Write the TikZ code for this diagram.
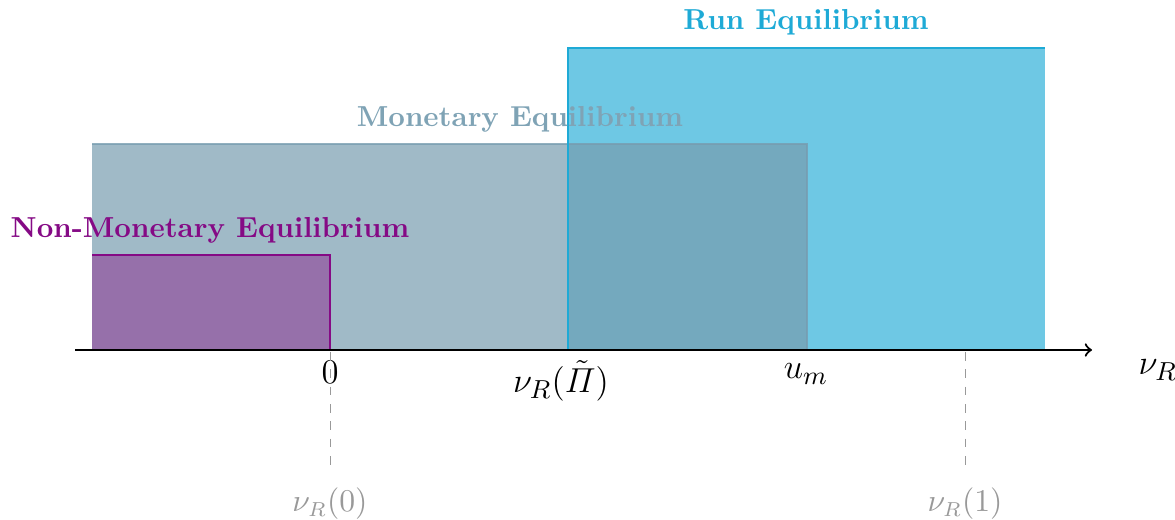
\documentclass[tikz,border=0pt]{standalone}
\usepackage{amsmath}
\definecolor{runc}{HTML}{1EAAD6}
\definecolor{runfill}{HTML}{6EC8E4}
\definecolor{monc}{HTML}{779CAF}
\definecolor{montext}{HTML}{7FA3B5}
\definecolor{nonc}{HTML}{850A85}
\definecolor{nonfill}{HTML}{9670AA}
\definecolor{lblgray}{HTML}{999999}
\begin{document}
\begin{tikzpicture}[x=0.346pt,y=-0.346pt,
  title/.style={font=\fontsize{10}{12}\selectfont\bfseries, inner sep=0pt},
  axlabel/.style={font=\fontsize{12.5}{15}\selectfont, inner sep=0pt},
  graylabel/.style={font=\fontsize{10.6}{13}\selectfont, text=lblgray, inner sep=0pt},
  border/.style={line width=0.6pt},
  guide/.style={dashed, draw=lblgray, line width=0.35pt}]
\useasboundingbox (0,0) rectangle (1175,520);
% corners
\coordinate (r0) at (568,350); \coordinate (r1) at (568,48); \coordinate (r2) at (1045,48); \coordinate (r3) at (1045,350);
\coordinate (m0) at (92,350); \coordinate (m1) at (92,144); \coordinate (m2) at (807,144); \coordinate (m3) at (807,350);
\coordinate (n0) at (92,350); \coordinate (n1) at (92,255); \coordinate (n2) at (330,255); \coordinate (n3) at (330,350);
% fills
\fill[runfill] (r0) -- (r1) -- (r2) -- (r3) -- cycle;
\fill[monc, opacity=0.7] (m0) -- (m1) -- (m2) -- (m3) -- cycle;
\draw[border, monc, opacity=0.8] (m1) -- (m2) -- (m3);
\draw[border, runc] (r0) -- (r1) -- (r2);
\fill[nonfill] (n0) -- (n1) -- (n2) -- (n3) -- cycle;
\draw[border, nonc] (n1) -- (n2) -- (n3);
% axis
\coordinate (a0) at (75,350); \coordinate (a1) at (1092,350);
\draw[->, line width=0.75pt] (a0) -- (a1);
\node[axlabel, anchor=west] (nuR) at (1138,370) {$\nu_R$};
% tick labels
\node[axlabel] (zero) at (330,372) {$0$};
\node[axlabel] (pit) at (561,381) {$\nu_R(\tilde{\varPi})$};
\node[axlabel] (um) at (806,374) {$u_m$};
% guides
\coordinate (g0) at (330,352); \coordinate (g0e) at (330,470);
\coordinate (g1) at (965,352); \coordinate (g1e) at (965,470);
\draw[guide] (g0) -- (g0e);
\draw[guide] (g1) -- (g1e);
\node[graylabel] (nu0) at (330,504) {$\nu_R(0)$};
\node[graylabel] (nu1) at (965,504) {$\nu_R(1)$};
% titles
\node[title, text=runc] (trun) at (806,22) {Run Equilibrium};
\node[title, text=montext] (tmon) at (520,119) {Monetary Equilibrium};
\node[title, text=nonc] (tnon) at (210,230) {Non-Monetary Equilibrium};
\end{tikzpicture}
\end{document}
